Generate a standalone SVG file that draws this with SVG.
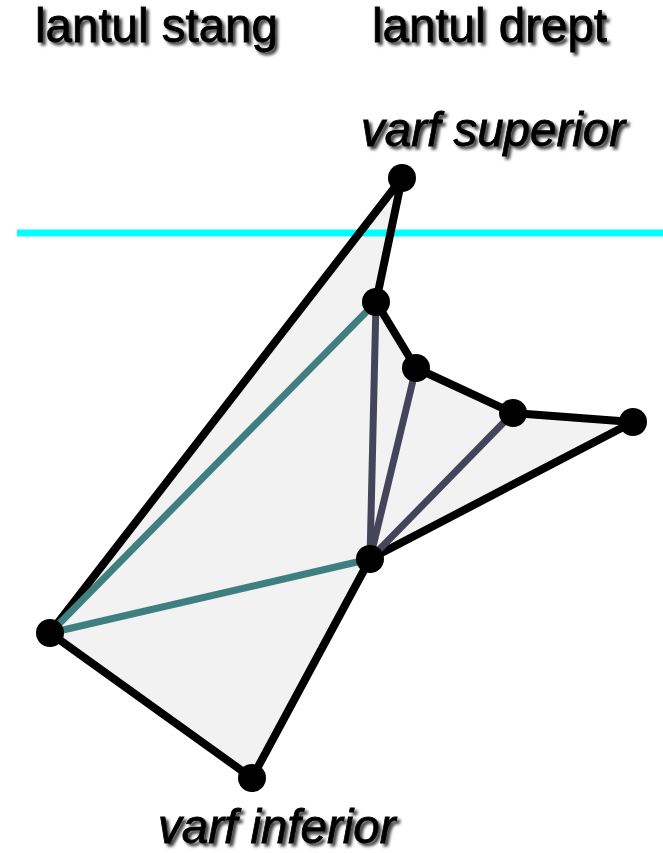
<svg xmlns="http://www.w3.org/2000/svg" width="663" height="853" viewBox="0 0 663 853">
<defs>
<filter id="sh" x="-10%" y="-30%" width="120%" height="160%">
<feDropShadow dx="3" dy="3" stdDeviation="1.6" flood-color="#000" flood-opacity="0.75"/>
</filter>
<style>
.lbl{font-family:"Liberation Sans",Arial,sans-serif;font-size:47.5px;fill:#000;stroke:#000;stroke-width:0.8;filter:url(#sh)}
.it{font-style:italic}
.edge{stroke:#000;stroke-width:8;fill:none;stroke-linejoin:round}
.teal{stroke:#3f7f80;stroke-width:7;fill:none}
.slate{stroke:#44445a;stroke-width:7;fill:none}
.v{fill:#000}
</style>
</defs>
<rect width="663" height="853" fill="#fff"/>
<g id="labels">
<text class="lbl" x="35" y="42">lantul stang</text>
<text class="lbl" x="372" y="42">lantul drept</text>
<text class="lbl it" x="361" y="146">varf superior</text>
<text class="lbl it" x="158" y="843">varf inferior</text>
</g>
<g id="polygon">
<polygon points="402,178 376,302 416,368 513,413 633,422 370,559 252,778 50,633" fill="#f2f2f2" stroke="none"/>
</g>
<g id="sweep-line">
<line x1="17" y1="233" x2="663" y2="233" stroke="#00ffff" stroke-width="7"/>
</g>
<g id="connectors">
<polygon class="edge" points="402,178 376,302 416,368 513,413 633,422 370,559 252,778 50,633"/>
<line class="teal" x1="50" y1="633" x2="376" y2="302"/>
<line class="teal" x1="50" y1="633" x2="370" y2="559"/>
<line class="slate" x1="370" y1="559" x2="376" y2="302"/>
<line class="slate" x1="370" y1="559" x2="416" y2="368"/>
<line class="slate" x1="370" y1="559" x2="513" y2="413"/>
</g>
<g id="vertices">
<circle id="v1" class="v" cx="402" cy="178" r="14"/>
<circle id="v2" class="v" cx="376" cy="302" r="14"/>
<circle id="v3" class="v" cx="416" cy="368" r="14"/>
<circle id="v4" class="v" cx="513" cy="413" r="14"/>
<circle id="v5" class="v" cx="633" cy="422" r="14"/>
<circle id="v6" class="v" cx="370" cy="559" r="14"/>
<circle id="v7" class="v" cx="252" cy="778" r="14"/>
<circle id="v8" class="v" cx="50" cy="633" r="14"/>
</g>
</svg>
